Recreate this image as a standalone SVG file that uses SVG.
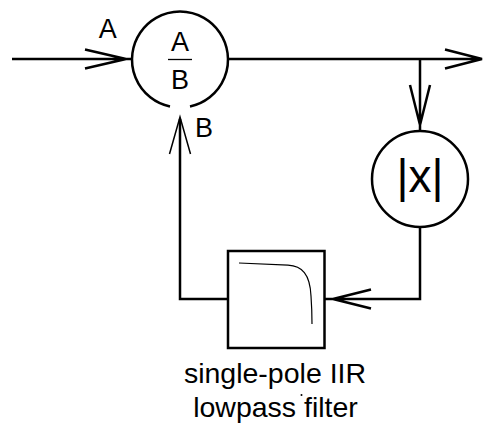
<svg xmlns="http://www.w3.org/2000/svg" width="483" height="425" viewBox="0 0 483 425">
<style>
.n{fill:none;stroke:#000;stroke-width:2.5}
.c{fill:none;stroke:#000;stroke-width:2.5}
.t{font-family:"Liberation Sans",Arial,sans-serif;fill:#000;text-anchor:middle;font-size:27px}
.l{font-size:28.500px}
</style>
<rect width="483" height="425" fill="#fff"/>
<g id="connectors">
<path class="c" d="M12 59H132M85 49.500L126 59L85 68.500"/>
<path class="c" d="M228 59H481M445 49.500L482 59L445 68.500"/>
<path class="c" d="M420 59V131M410 85L420 125L430 85"/>
<path class="c" d="M420 227V299H325M371 289.500L333 299L371 308.500"/>
<path class="c" d="M228 299H180V119"/>
<path d="M169.500 154L180 117L190.500 154" fill="none" stroke="#000" stroke-width="1.500"/>
</g>
<g id="divider">
<path class="n" d="M170 106.500A48 48 0 1 1 190 106.500"/>
<path d="M168 59.500H192" fill="none" stroke="#000" stroke-width="1.300"/>
<text class="t" x="180" y="50.700">A</text>
<text class="t" x="180" y="89.300">B</text>
</g>
<g id="label-a"><text class="t" x="107.700" y="38">A</text></g>
<g id="label-b"><text class="t" x="204" y="136.700">B</text></g>
<g id="abs">
<circle class="n" cx="420" cy="179" r="48"/>
<text class="t" x="420" y="192" style="font-size:46px">|x|</text>
</g>
<g id="filter">
<rect class="n" x="228" y="251" width="96.500" height="97"/>
<path d="M239 263L288 265.200C302 266 310 274 311 296C311.700 306 312 316 312 324" fill="none" stroke="#000" stroke-width="1.200"/>
<text class="t l" x="275" y="382.500">single-pole IIR</text>
<text class="t l" x="275.500" y="416.700">lowpass filter</text>
<circle cx="301.500" cy="395" r="1" fill="#000"/>
</g>
</svg>
